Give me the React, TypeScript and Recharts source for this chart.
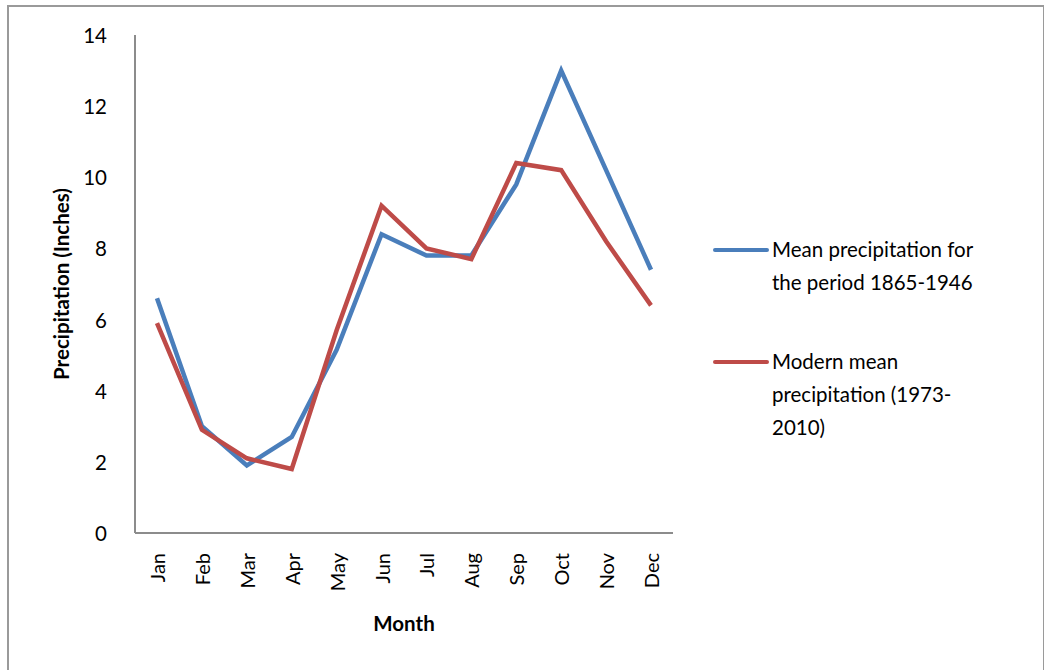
import React from "react"
import { LineChart, Line, XAxis, YAxis } from "recharts"

const months = ["Jan", "Feb", "Mar", "Apr", "May", "Jun", "Jul", "Aug", "Sep", "Oct", "Nov", "Dec"]
const historicMean = [6.6, 3.0, 1.9, 2.7, 5.15, 8.4, 7.8, 7.8, 9.8, 13.0, 10.2, 7.4]
const modernMean = [5.9, 2.9, 2.1, 1.8, 5.7, 9.2, 8.0, 7.7, 10.4, 10.2, 8.2, 6.4]
const yTicks = [0, 2, 4, 6, 8, 10, 12, 14]

const BLUE = "#4a7ebb"
const RED = "#be4b48"
const FONT = "Lato, 'Open Sans', sans-serif"

const data = months.map((m, i) => ({
  month: m,
  historic: historicMean[i],
  modern: modernMean[i],
}))

const MonthTick = (props: any) => {
  const { x, y, payload } = props
  return (
    <g transform={`translate(${x},${y})`}>
      <text
        x={-12}
        y={0}
        transform="rotate(-90)"
        textAnchor="end"
        dominantBaseline="central"
        fontSize={20}
        fontFamily={FONT}
        fill="#000"
      >
        {payload.value}
      </text>
    </g>
  )
}

const ValueTick = (props: any) => {
  const { x, y, payload } = props
  return (
    <text
      x={x - 20}
      y={y}
      textAnchor="end"
      dominantBaseline="central"
      fontSize={20.5}
      fontFamily={FONT}
      fill="#000"
    >
      {payload.value}
    </text>
  )
}

// legend drawn by hand so it doesn't eat into the plot area
const LegendBox = () => (
  <div
    style={{
      position: "absolute",
      left: 713,
      top: 233,
      width: 320,
      fontFamily: FONT,
      fontSize: 20.5,
      lineHeight: "33px",
      color: "#000",
    }}
  >
    <div style={{ display: "flex", alignItems: "flex-start" }}>
      <div style={{ width: 56, height: 4, background: BLUE, borderRadius: 2, marginTop: 15, marginRight: 3 }} />
      <div>
        Mean precipitation for
        <br />
        the period 1865-1946
      </div>
    </div>
    <div style={{ display: "flex", alignItems: "flex-start", marginTop: 46 }}>
      <div style={{ width: 56, height: 4, background: RED, borderRadius: 2, marginTop: 15, marginRight: 3 }} />
      <div>
        Modern mean
        <br />
        precipitation (1973-
        <br />
        2010)
      </div>
    </div>
  </div>
)

export default function App() {
  return (
    <div style={{ position: "absolute", left: 0, top: 0, width: 1044, height: 670, background: "#fff", overflow: "hidden" }}>
      <div
        style={{
          position: "absolute",
          left: 7,
          top: 5,
          width: 1034,
          height: 700,
          border: "2px solid #9a9a9a",
        }}
      />
      <LineChart
        width={1044}
        height={670}
        data={data}
        margin={{ top: 35, right: 371, bottom: 0, left: 0 }}
        style={{ position: "absolute", left: 0, top: 0 }}
      >
        <XAxis
          dataKey="month"
          interval={0}
          height={137}
          padding={{ left: 22, right: 22 }}
          axisLine={{ stroke: "#8c8c8c", strokeWidth: 2 }}
          tickLine={false}
          tick={<MonthTick />}
          label={{
            value: "Month",
            position: "insideBottom",
            offset: 39,
            style: { fontFamily: FONT, fontSize: 20.5, fontWeight: 700, fill: "#000" },
          }}
        />
        <YAxis
          width={135}
          domain={[0, 14]}
          ticks={yTicks}
          interval={0}
          axisLine={{ stroke: "#8c8c8c", strokeWidth: 2 }}
          tickLine={false}
          tick={<ValueTick />}
          label={{
            value: "Precipitation (Inches)",
            angle: -90,
            position: "insideLeft",
            offset: 62,
            style: { textAnchor: "middle", fontFamily: FONT, fontSize: 20.5, fontWeight: 700, fill: "#000" },
          }}
        />
        <Line
          dataKey="historic"
          name="Mean precipitation for the period 1865-1946"
          stroke={BLUE}
          strokeWidth={4.5}
          dot={false}
          activeDot={false}
          isAnimationActive={false}
          type="linear"
        />
        <Line
          dataKey="modern"
          name="Modern mean precipitation (1973-2010)"
          stroke={RED}
          strokeWidth={4.5}
          dot={false}
          activeDot={false}
          isAnimationActive={false}
          type="linear"
        />
      </LineChart>
      <LegendBox />
    </div>
  )
}
